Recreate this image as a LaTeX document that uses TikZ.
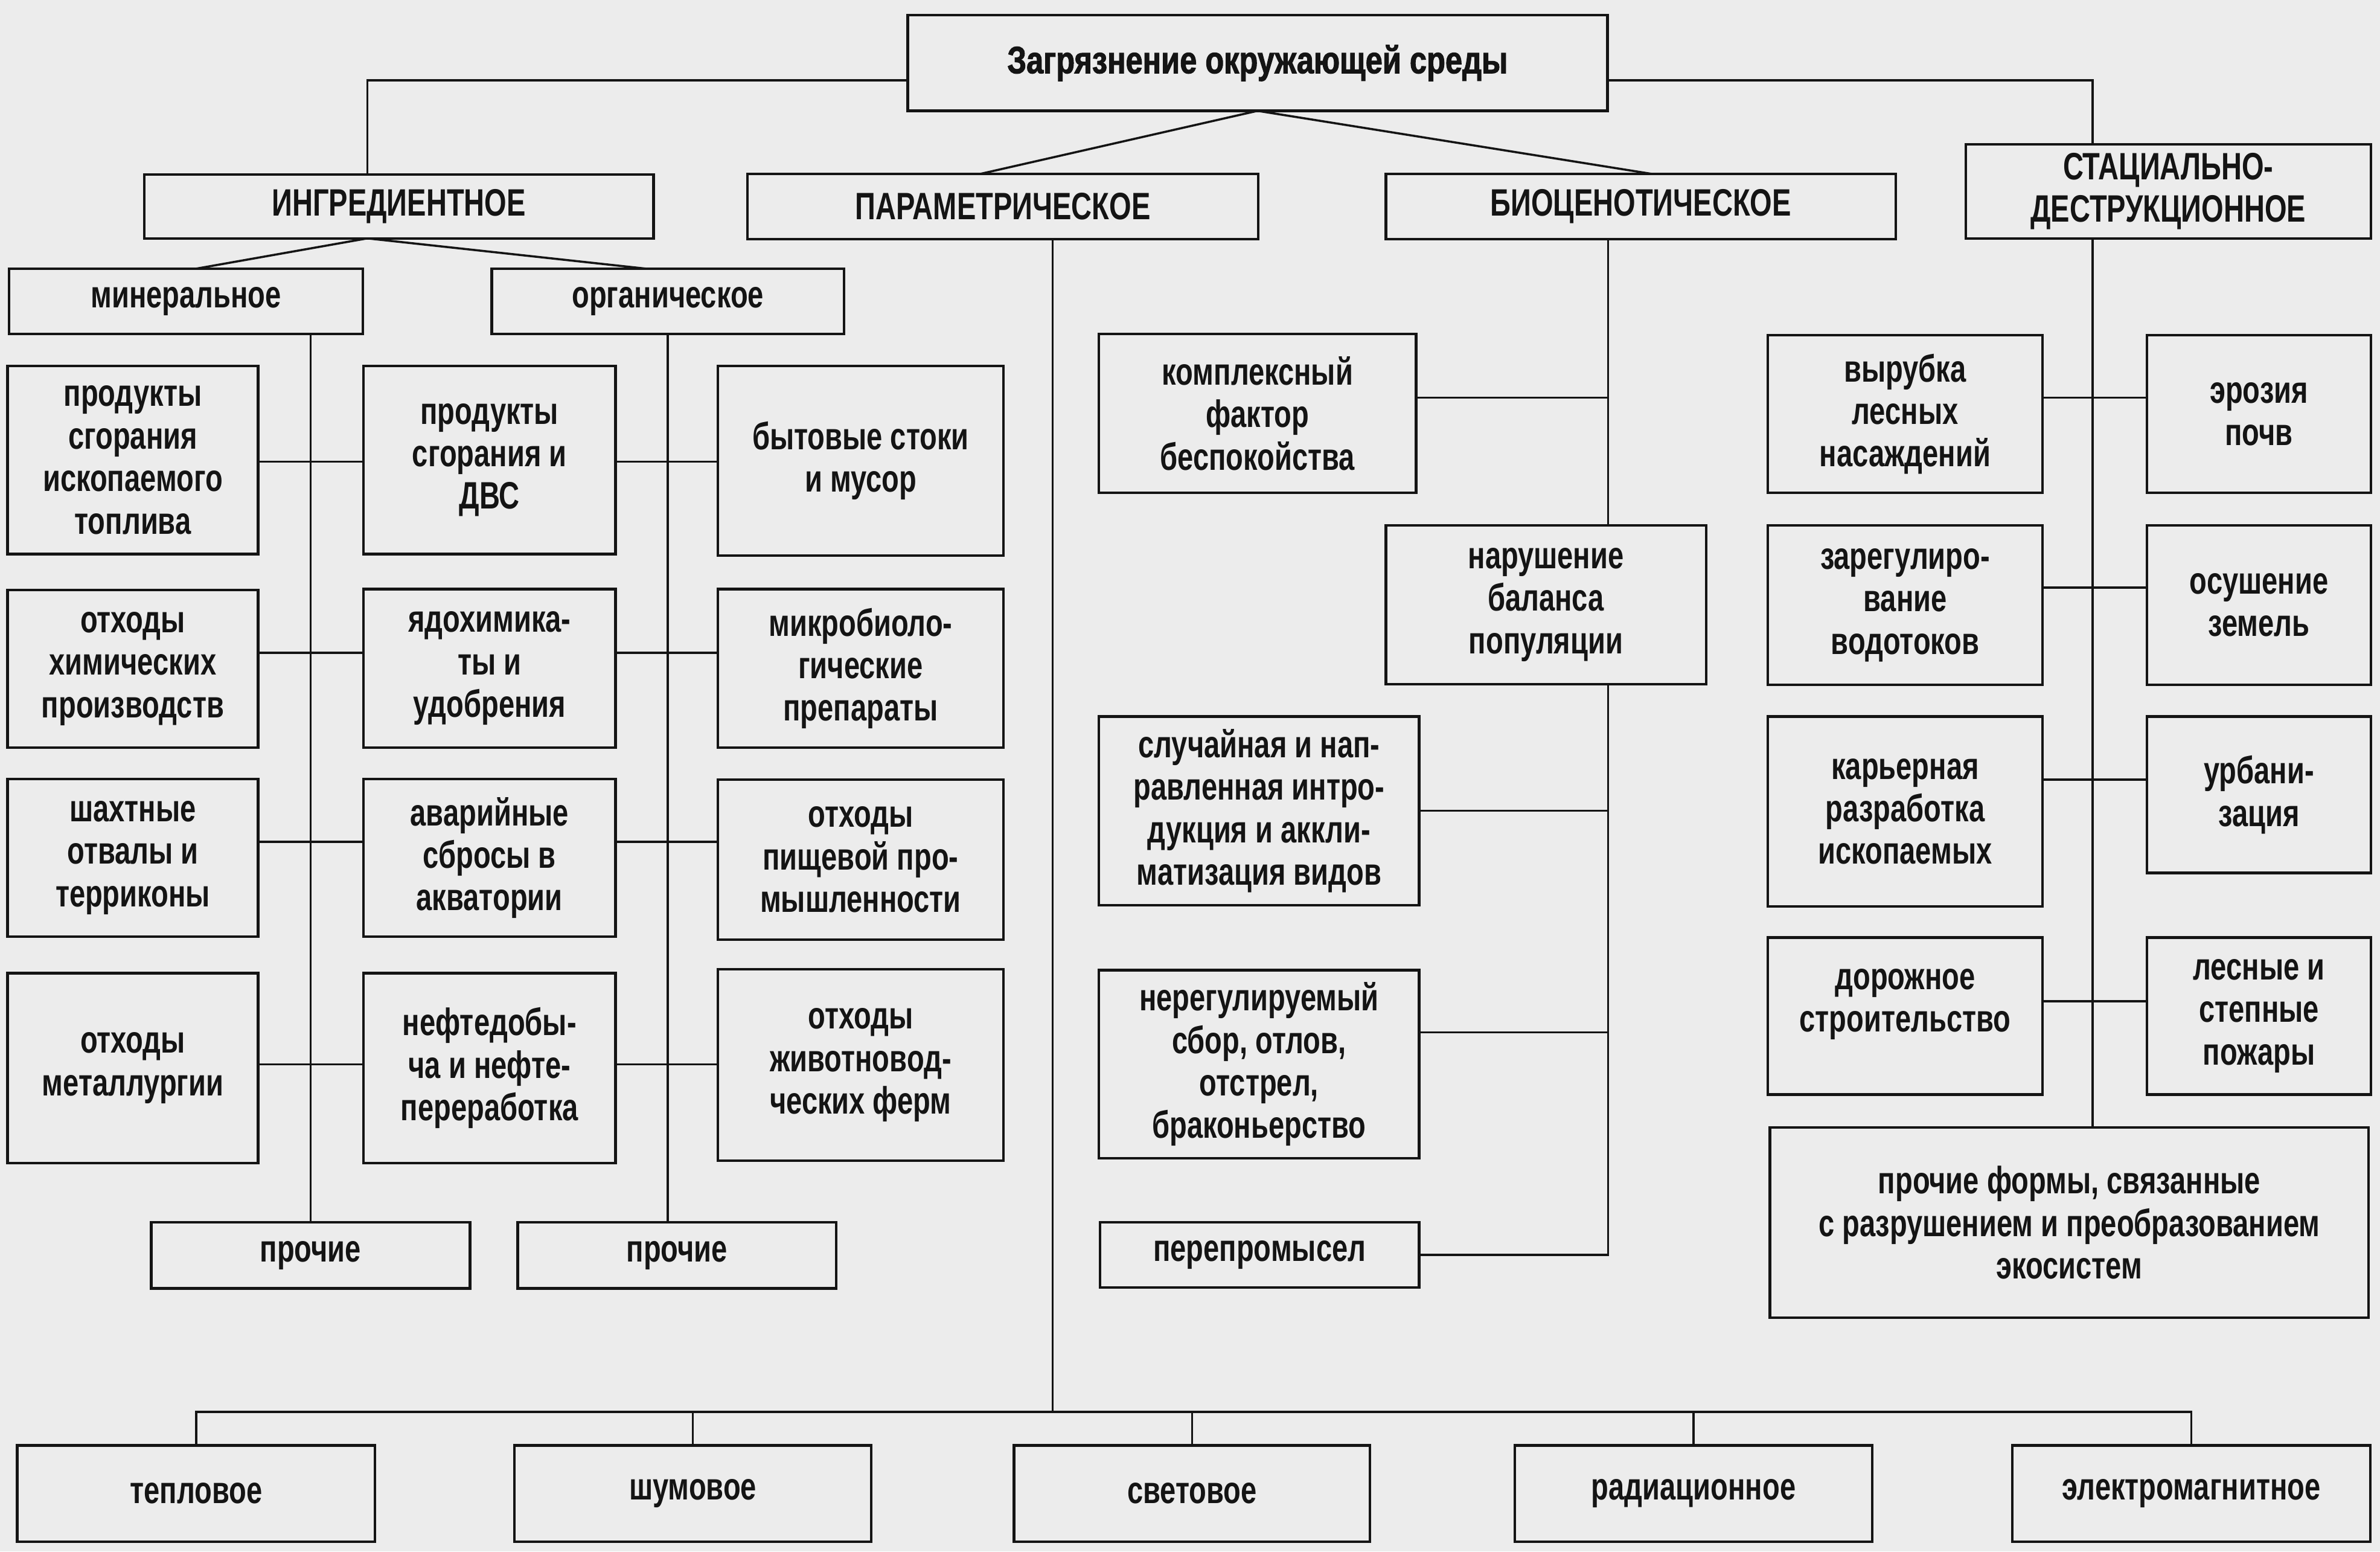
\documentclass[tikz,border=0pt]{standalone}
\usepackage{fontspec}
\setmainfont[FakeStretch=0.745]{Liberation Sans Bold}
\newfontfamily\titlefont[FakeStretch=0.8, FakeBold=1.6]{Liberation Sans Bold}
\usetikzlibrary{calc}
\definecolor{paper}{gray}{0.925}
\definecolor{ink}{gray}{0.08}
\pgfdeclarelayer{paperlayer}
\pgfdeclarelayer{bg}
\pgfsetlayers{paperlayer,bg,main}
\tikzset{
  box/.style={draw=ink, line width=1pt, fill=paper, inner sep=0pt, outer sep=0pt,
    align=center, text=ink, font=\fontsize{14.3pt}{15.94pt}\selectfont},
  link/.style={draw=ink, line width=0.8pt}
}
\newcommand{\mkbox}[6]{\node[box, minimum width={(#4-#2)*0.02cm}, minimum height={(#5-#3)*0.02cm}] (#1) at ({(#2+#4)/2},{(#3+#5)/2}) {#6};}
\begin{document}
\begin{tikzpicture}[x=0.02cm, y=-0.02cm]
\begin{pgfonlayer}{paperlayer}
\fill[paper] (0,0) rectangle (1568,1022);
\end{pgfonlayer}
\useasboundingbox (0,0) rectangle (1568,1022);

% top level
\mkbox{title}{598}{10}{1059}{73}{\titlefont Загрязнение окружающей среды}
\mkbox{ingr}{95}{115}{430.5}{157}{ИНГРЕДИЕНТНОЕ}
\mkbox{param}{492.5}{114.5}{829}{157.5}{ПАРАМЕТРИЧЕСКОЕ}
\mkbox{bio}{913}{114.5}{1249}{157.5}{БИОЦЕНОТИЧЕСКОЕ}
\mkbox{stac}{1295}{95}{1562}{157}{СТАЦИАЛЬНО-\\ДЕСТРУКЦИОННОЕ}

% ingredient
\mkbox{miner}{6}{177}{239}{220}{минеральное}
\mkbox{organ}{324}{177}{556}{220}{органическое}
\mkbox{L1}{5}{241}{170}{365}{продукты\\сгорания\\ископаемого\\топлива}
\mkbox{L2}{5}{388.5}{170}{492.5}{отходы\\химических\\производств}
\mkbox{L3}{5}{513}{170}{617}{шахтные\\отвалы и\\терриконы}
\mkbox{L4}{5}{641}{170}{766}{отходы\\металлургии}
\mkbox{M1}{239.5}{241}{405.5}{365}{продукты\\сгорания и\\ДВС}
\mkbox{M2}{239.5}{388}{405.5}{492.5}{ядохимика-\\ты и\\удобрения}
\mkbox{M3}{239.5}{513}{405.5}{617}{аварийные\\сбросы в\\акватории}
\mkbox{M4}{239.5}{641}{405.5}{766}{нефтедобы-\\ча и нефте-\\переработка}
\mkbox{R1}{473}{241}{661}{366}{бытовые стоки\\и мусор}
\mkbox{R2}{473}{388}{661}{492.5}{микробиоло-\\гические\\препараты}
\mkbox{R3}{473}{513.5}{661}{619}{отходы\\пищевой про-\\мышленности}
\mkbox{R4}{473}{638.5}{661}{764.5}{отходы\\животновод-\\ческих ферм}
\mkbox{proch1}{99.6}{805}{309.6}{848.6}{прочие}
\mkbox{proch2}{341}{805}{551}{848.6}{прочие}

% parametric
\mkbox{teplo}{11.4}{952}{247}{1015.5}{тепловое}
\mkbox{shum}{339}{952}{574}{1015.5}{шумовое}
\mkbox{svet}{668}{952}{902.6}{1015.5}{световое}
\mkbox{rad}{998}{952}{1233.5}{1015.5}{радиационное}
\mkbox{elek}{1325.8}{952}{1561.7}{1015.5}{электромагнитное}

% biocenotic
\mkbox{komplex}{724}{220}{933}{324.6}{комплексный\\фактор\\беспокойства}
\mkbox{narush}{913}{346}{1124}{450.7}{нарушение\\баланса\\популяции}
\mkbox{sluch}{724}{472}{935}{596.3}{случайная и нап-\\равленная интро-\\дукция и аккли-\\матизация видов}
\mkbox{nereg}{724}{639}{935}{763}{нерегулируемый\\сбор, отлов,\\отстрел,\\браконьерство}
\mkbox{perep}{724.7}{805}{935}{848}{перепромысел}

% stational-destructive
\mkbox{SL1}{1164.7}{220.8}{1345.6}{324.6}{вырубка\\лесных\\насаждений}
\mkbox{SL2}{1164.7}{346}{1345.6}{451}{зарегулиро-\\вание\\водотоков}
\mkbox{SL3}{1164.7}{472}{1345.6}{597}{карьерная\\разработка\\ископаемых}
\mkbox{SL4}{1164.7}{617.5}{1345.6}{721}{дорожное\\строительство\\[-4pt]\mbox{}}
\mkbox{SR1}{1414.5}{220.8}{1562}{324.6}{эрозия\\почв}
\mkbox{SR2}{1414.5}{346}{1562}{451}{осушение\\земель}
\mkbox{SR3}{1414.5}{472}{1562}{575}{урбани-\\зация}
\mkbox{SR4}{1414.5}{617.5}{1562}{721}{лесные и\\степные\\пожары}
\mkbox{pform}{1166}{742.6}{1560.5}{868}{прочие формы, связанные\\с разрушением и преобразованием\\экосистем}

% helper coordinates
\coordinate (jL) at (242,53);
\coordinate (jR) at (1378.7,53);
\coordinate (xP) at (646,0);
\coordinate (xB) at (1088,0);
\coordinate (xMn) at (129,0);
\coordinate (xOr) at (426,0);
\coordinate (vM) at (204.6,0);
\coordinate (vO) at (440,0);
\coordinate (vP) at (693.5,0);
\coordinate (vB) at (1059.5,0);
\coordinate (vS) at (1378.7,0);
\coordinate (bus) at (0,930);
\coordinate (r1) at (0,304);
\coordinate (r2) at (0,430);
\coordinate (r3) at (0,554.5);
\coordinate (r4) at (0,701);
\coordinate (b1) at (0,262);
\coordinate (b2) at (0,534);
\coordinate (b3) at (0,680);
\coordinate (s1) at (0,262);
\coordinate (s2) at (0,387);
\coordinate (s3) at (0,513.5);
\coordinate (s4) at (0,659.5);

\begin{pgfonlayer}{bg}
% from title
\draw[link] (title.west |- jL) -| (ingr.north -| jL);
\draw[link] (title.east |- jR) -| (stac.north -| jR);
\draw[link] (title.south) -- (param.north -| xP);
\draw[link] (title.south) -- (bio.north -| xB);
% ingredient
\draw[link] (ingr.south -| jL) -- (miner.north -| xMn);
\draw[link] (ingr.south -| jL) -- (organ.north -| xOr);
\draw[link] (miner.south -| vM) -- (proch1.north -| vM);
\draw[link] (organ.south -| vO) -- (proch2.north -| vO);
\draw[link] (L1.east |- r1) -- (M1.west |- r1);
\draw[link] (M1.east |- r1) -- (R1.west |- r1);
\draw[link] (L2.east |- r2) -- (M2.west |- r2);
\draw[link] (M2.east |- r2) -- (R2.west |- r2);
\draw[link] (L3.east |- r3) -- (M3.west |- r3);
\draw[link] (M3.east |- r3) -- (R3.west |- r3);
\draw[link] (L4.east |- r4) -- (M4.west |- r4);
\draw[link] (M4.east |- r4) -- (R4.west |- r4);
% parametric
\draw[link] (param.south -| vP) -- (vP |- bus);
\draw[link] (teplo.north) -- (teplo.north |- bus) -- (elek.north |- bus) -- (elek.north);
\draw[link] (shum.north) -- (shum.north |- bus);
\draw[link] (svet.north) -- (svet.north |- bus);
\draw[link] (rad.north) -- (rad.north |- bus);
% biocenotic
\draw[link] (bio.south -| vB) -- (vB |- perep.east) -- (perep.east);
\draw[link] (komplex.east |- b1) -- (vB |- b1);
\draw[link] (sluch.east |- b2) -- (vB |- b2);
\draw[link] (nereg.east |- b3) -- (vB |- b3);
% stational
\draw[link] (stac.south -| vS) -- (pform.north -| vS);
\draw[link] (SL1.east |- s1) -- (SR1.west |- s1);
\draw[link] (SL2.east |- s2) -- (SR2.west |- s2);
\draw[link] (SL3.east |- s3) -- (SR3.west |- s3);
\draw[link] (SL4.east |- s4) -- (SR4.west |- s4);
\end{pgfonlayer}
\end{tikzpicture}
\end{document}
